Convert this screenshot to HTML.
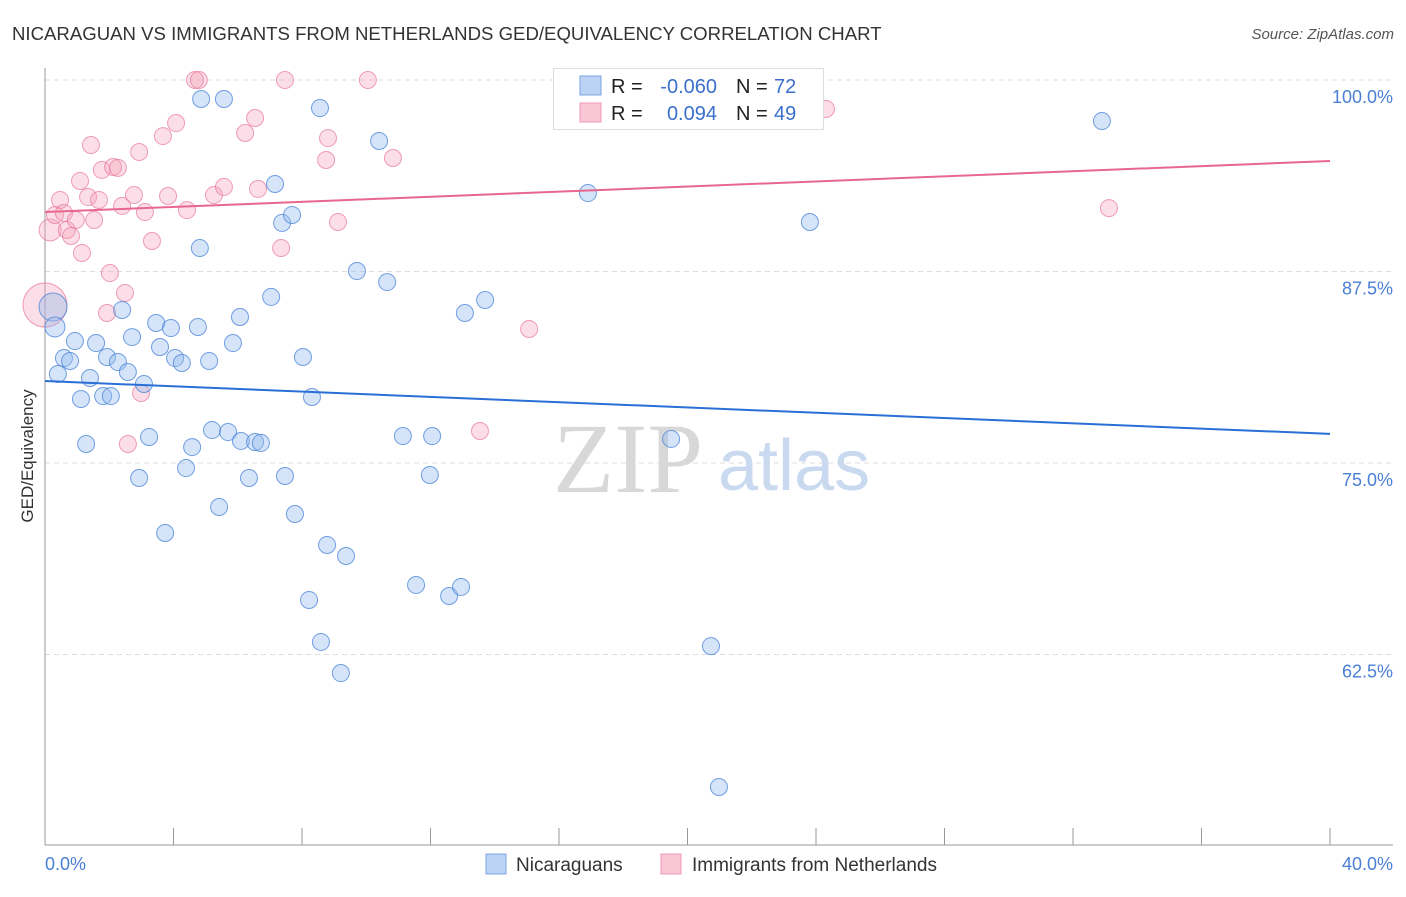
<!DOCTYPE html>
<html><head><meta charset="utf-8"><style>
body{margin:0;background:#fff;font-family:"Liberation Sans",sans-serif;}
</style></head><body>
<svg id="chart" width="1406" height="892" viewBox="0 0 1406 892" font-family="Liberation Sans, sans-serif">
<text x="12" y="40" font-size="18.6" fill="#333">NICARAGUAN VS IMMIGRANTS FROM NETHERLANDS GED/EQUIVALENCY CORRELATION CHART</text>
<text x="1394" y="39" font-size="15" fill="#555" font-style="italic" text-anchor="end">Source: ZipAtlas.com</text>
<g id="grid"></g>
<g>
<text x="553" y="492" font-size="100" style="font-family:'Liberation Serif',serif" fill="#d8d8d8">ZIP</text>
<text x="718" y="490" font-size="72" fill="#c9d9ef">atlas</text>
</g>
<line x1="45" y1="68" x2="45" y2="845" stroke="#999" stroke-width="1"/>
<line x1="45" y1="845" x2="1393" y2="845" stroke="#999" stroke-width="1"/>
<text transform="translate(33,456) rotate(-90)" font-size="17" fill="#333" text-anchor="middle">GED/Equivalency</text>
<text x="45" y="870" font-size="18" fill="#4a7fd4">0.0%</text>
<text x="1393" y="870" font-size="18" fill="#4a7fd4" text-anchor="end">40.0%</text>
<g id="ticks"></g>
<g id="ylabels"></g>
<g id="pinkpts"></g>
<g id="bluepts"></g>
<g id="trends"></g>
<g>
<rect x="553.5" y="68.5" width="270" height="61" fill="#fff" stroke="#ddd"/>
<rect x="580" y="76" width="21" height="19" fill="#bcd3f5" stroke="#7aa5e0"/>
<rect x="580" y="103" width="21" height="19" fill="#f9c6d6" stroke="#ee9ab5"/>
<text x="611" y="93" font-size="20" fill="#222">R =</text>
<text x="717" y="93" font-size="20" fill="#3a70cc" text-anchor="end">-0.060</text>
<text x="736" y="93" font-size="20" fill="#222">N =</text>
<text x="774" y="93" font-size="20" fill="#3a70cc">72</text>
<text x="611" y="120" font-size="20" fill="#222">R =</text>
<text x="717" y="120" font-size="20" fill="#3a70cc" text-anchor="end">0.094</text>
<text x="736" y="120" font-size="20" fill="#222">N =</text>
<text x="774" y="120" font-size="20" fill="#3a70cc">49</text>
</g>
<g>
<rect x="486" y="854" width="20" height="20" fill="#bcd3f5" stroke="#7aa5e0"/>
<text x="516" y="871" font-size="19" fill="#333">Nicaraguans</text>
<rect x="661" y="854" width="20" height="20" fill="#f9c6d6" stroke="#ee9ab5"/>
<text x="692" y="871" font-size="19" fill="#333">Immigrants from Netherlands</text>
</g>
</svg>
<script>
const yTicks=[100,87.5,75,62.5];
const yTickLabels=["100.0%","87.5%","75.0%","62.5%"];
const xTicks=[0,4,8,12,16,20,24,28,32,36,40];
const blueX=[0.25,0.31,0.59,0.78,0.40,0.93,1.59,1.40,1.12,1.81,2.05,1.28,1.93,2.27,2.58,2.40,2.71,3.08,3.24,2.93,3.74,3.46,3.58,3.92,4.05,4.26,4.76,5.11,4.39,4.58,4.86,5.20,5.42,5.57,5.70,5.85,6.07,6.10,6.35,6.54,6.72,7.04,7.16,7.38,7.69,7.47,7.78,8.03,8.31,8.22,8.59,8.78,9.21,9.37,8.56,9.71,10.65,10.40,11.14,11.55,12.05,11.98,12.58,12.95,13.07,13.70,16.90,19.49,20.73,20.98,23.81,32.90,4.82];
const blueY=[85.18,83.88,81.85,81.66,80.81,82.96,82.83,80.55,79.18,79.37,79.37,76.24,81.92,81.59,80.94,84.99,83.22,80.16,76.70,74.02,70.43,84.14,82.57,83.81,81.85,81.53,83.88,81.66,74.67,76.04,98.76,77.15,72.13,98.76,77.02,82.83,84.53,76.44,74.02,76.37,76.31,85.84,93.21,90.67,91.19,74.15,71.67,81.92,79.31,66.06,63.32,69.65,61.29,68.93,98.17,87.53,86.81,96.02,76.76,67.04,76.76,74.22,66.32,66.91,84.79,85.64,92.62,76.57,63.05,53.85,90.73,97.32,89.03];
const pinkX=[0.16,0.00,0.31,0.47,0.59,0.68,0.81,0.96,1.09,1.15,1.43,1.34,1.53,1.68,1.77,2.02,1.93,2.12,2.27,2.40,2.49,2.58,2.77,2.93,2.99,3.11,3.33,3.67,3.83,4.08,4.42,4.67,4.79,5.26,5.57,6.23,6.54,6.63,7.35,7.47,8.75,8.81,9.12,10.05,10.83,13.54,15.07,24.31,33.12];
const pinkY=[90.21,85.31,91.19,92.17,91.32,90.21,89.82,90.86,93.41,88.71,95.76,92.36,90.86,92.17,94.13,87.40,84.79,94.32,94.26,91.78,86.10,76.24,92.49,95.30,79.57,91.38,89.49,96.34,92.43,97.19,91.51,100,100,92.49,93.02,96.54,97.52,92.89,89.03,100,94.78,96.21,90.73,100,94.91,77.09,83.75,98.11,91.64];
const blueTrend=[80.35,76.9];
const pinkTrend=[91.38,94.71];
const NS="http://www.w3.org/2000/svg";
const sx=v=>45+v/40*1285;
const sy=v=>80+(100-v)/12.5*191.5;
function mk(tag,attrs,parent){const e=document.createElementNS(NS,tag);for(const k in attrs)e.setAttribute(k,attrs[k]);parent.appendChild(e);return e;}
const grid=document.getElementById('grid'),yl=document.getElementById('ylabels'),tk=document.getElementById('ticks');
yTicks.forEach((t,i)=>{
 const l=mk('line',{x1:45,x2:1393,y1:sy(t),y2:sy(t),stroke:'#ddd','stroke-dasharray':'5,4'},grid);
 
 
 const tx=mk('text',{x:1393,y:sy(t)+23,'font-size':18,fill:'#4a7fd4','text-anchor':'end'},yl);
 tx.textContent=yTickLabels[i];
 
 
});
xTicks.forEach(t=>{
 const l=mk('line',{x1:sx(t),x2:sx(t),y1:828,y2:845,stroke:'#999'},tk);
 
 
});
const pg=document.getElementById('pinkpts');
pinkX.forEach((x,i)=>{
 const r=i===1?22:(i===0?11:8.5);
 const c=mk('circle',{cx:sx(x),cy:sy(pinkY[i]),r:r,fill:'rgba(244,160,186,0.35)',stroke:'rgba(232,120,155,0.7)','stroke-width':1},pg);
 
 
});
const bg=document.getElementById('bluepts');
blueX.forEach((x,i)=>{
 const r=i===0?14:(i===1?10:8.5);
 const c=mk('circle',{cx:sx(x),cy:sy(blueY[i]),r:r,fill:'rgba(150,188,238,0.4)',stroke:'rgba(70,130,215,0.75)','stroke-width':1},bg);
 
 
});
const tr=document.getElementById('trends');
const bl=mk('line',{x1:sx(0),x2:sx(40),y1:sy(blueTrend[0]),y2:sy(blueTrend[1]),stroke:'#2a6fd6','stroke-width':2},tr);


const pl=mk('line',{x1:sx(0),x2:sx(40),y1:sy(pinkTrend[0]),y2:sy(pinkTrend[1]),stroke:'#e8678f','stroke-width':2},tr);


</script>
</body></html>
